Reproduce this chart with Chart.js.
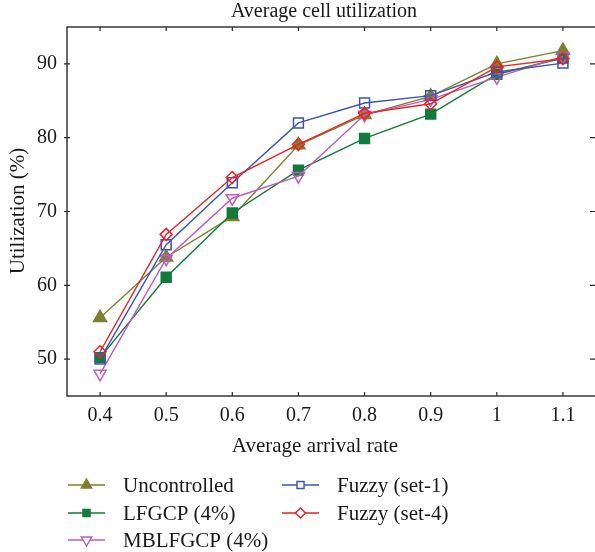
<!DOCTYPE html>
<html>
<head>
<meta charset="utf-8">
<title>Average cell utilization</title>
<script src="https://cdn.jsdelivr.net/npm/chart.js@4.4.1/dist/chart.umd.min.js"></script>
<style>
    html, body { margin: 0; padding: 0; background: #fff; overflow: hidden; }
    #wrap { width: 595px; height: 552px; overflow: hidden; position: relative; }
    #utilChart { position: absolute; left: 0; top: 0; }
</style>
</head>
<body>
<div id="wrap"><canvas id="utilChart" width="600" height="552"></canvas></div>
<script>
// Arrival rates on the x axis
const arrivalRates = [0.4, 0.5, 0.6, 0.7, 0.8, 0.9, 1.0, 1.1];

// Utilization (%) per scheme
const uncontrolled = [55.6, 63.8, 69.3, 79.0, 83.1, 85.6, 90.0, 91.8];
const lfgcp        = [50.2, 61.1, 69.8, 75.6, 79.9, 83.2, 88.6, 90.8];
const mblfgcp      = [48.0, 63.6, 71.8, 74.8, 83.1, 85.2, 88.2, 91.0];
const fuzzySet1    = [50.0, 65.5, 73.9, 82.0, 84.7, 85.7, 88.9, 90.1];
const fuzzySet4    = [51.0, 66.9, 74.6, 79.1, 83.3, 84.6, 89.6, 90.7];

// Axis ticks
const xTicks = [0.4, 0.5, 0.6, 0.7, 0.8, 0.9, 1, 1.1];
const yTicks = [50, 60, 70, 80, 90];

const FONT = '"Liberation Serif", "Times New Roman", serif';

function toPoints(values) {
    return arrivalRates.map((r, i) => ({ x: r, y: values[i] }));
}

const series = [
    { label: 'Uncontrolled', data: uncontrolled, color: '#7f7f30', style: 'triangle', rotation: 0, filled: true, radius: 7.5, order: 5,
      legend: { radius: 6 } },
    { label: 'LFGCP (4%)', data: lfgcp, color: '#127a3d', style: 'rect', rotation: 0, filled: true, radius: 7, order: 4,
      legend: { radius: 5 } },
    { label: 'MBLFGCP (4%)', data: mblfgcp, color: '#c05cc0', style: 'triangle', rotation: 180, filled: false, radius: 7, order: 3,
      legend: { radius: 6 } },
    { label: 'Fuzzy (set-1)', data: fuzzySet1, color: '#3a55b4', style: 'rect', rotation: 0, filled: false, radius: 7, order: 2,
      legend: { radius: 5 } },
    { label: 'Fuzzy (set-4)', data: fuzzySet4, color: '#ee2024', style: 'rectRot', rotation: 0, filled: false, radius: 6, order: 1,
      legend: { radius: 5 } }
];

// Box around the plot with small tick marks on every side
const framePlugin = {
    id: 'frame',
    beforeDatasetsDraw(chart) {
        const { ctx, chartArea: a, scales } = chart;
        ctx.save();
        ctx.strokeStyle = '#2b2b2b';
        ctx.lineWidth = 1.4;
        ctx.strokeRect(a.left, a.top, a.right - a.left, a.bottom - a.top);
        ctx.lineWidth = 1.2;
        ctx.beginPath();
        xTicks.forEach(v => {
            const px = scales.x.getPixelForValue(v);
            ctx.moveTo(px, a.bottom); ctx.lineTo(px, a.bottom - 4);
            ctx.moveTo(px, a.top); ctx.lineTo(px, a.top + 4);
        });
        yTicks.forEach(v => {
            const py = scales.y.getPixelForValue(v);
            ctx.moveTo(a.left - 3, py); ctx.lineTo(a.left + 3, py);
            ctx.moveTo(a.right, py); ctx.lineTo(a.right - 6, py);
        });
        ctx.stroke();
        ctx.restore();
    }
};

// Title, axis titles and the two-column legend
const textPlugin = {
    id: 'texts',
    afterDraw(chart) {
        const { ctx } = chart;
        ctx.save();
        ctx.fillStyle = '#1a1a1a';
        ctx.textAlign = 'center';
        ctx.textBaseline = 'middle';

        ctx.font = '20px ' + FONT;
        ctx.fillText('Average cell utilization', 324, 12);

        ctx.font = '21px ' + FONT;
        ctx.fillText('Average arrival rate', 315, 446);

        ctx.save();
        ctx.translate(18, 211);
        ctx.rotate(-Math.PI / 2);
        ctx.fillText('Utilization (%)', 0, 0);
        ctx.restore();

        // legend: first three entries in the left column, the rest on the right
        const cols = [68, 282];
        const rows = [485, 513, 540];
        series.forEach((s, i) => {
            const col = i < 3 ? 0 : 1;
            const row = i < 3 ? i : i - 3;
            const x0 = cols[col];
            const y = rows[row];
            ctx.strokeStyle = s.color;
            ctx.lineWidth = 1.6;
            ctx.beginPath();
            ctx.moveTo(x0, y);
            ctx.lineTo(x0 + 37, y);
            ctx.stroke();
            ctx.fillStyle = s.filled ? s.color : '#ffffff';
            ctx.lineWidth = 1.4;
            Chart.helpers.drawPoint(ctx, {
                pointStyle: s.style,
                rotation: s.rotation,
                radius: s.legend.radius,
                borderWidth: 1.4
            }, x0 + 18.5, y);
            ctx.fillStyle = '#1a1a1a';
            ctx.textAlign = 'left';
            ctx.font = '21px ' + FONT;
            ctx.fillText(s.label, x0 + 55, y + 1);
        });
        ctx.restore();
    }
};

new Chart(document.getElementById('utilChart'), {
    type: 'line',
    data: {
        datasets: series.map(s => ({
            label: s.label,
            data: toPoints(s.data),
            borderColor: s.color,
            borderWidth: 1.4,
            pointStyle: s.style,
            rotation: s.rotation,
            pointRadius: s.radius,
            pointBorderWidth: 1.5,
            pointBorderColor: s.color,
            pointBackgroundColor: s.filled ? s.color : 'rgba(255,255,255,0)',
            tension: 0,
            order: s.order
        }))
    },
    options: {
        responsive: false,
        animation: false,
        events: [],
        layout: {
            autoPadding: false,
            padding: { top: 27, right: 4, bottom: 126, left: 0 }
        },
        plugins: {
            legend: { display: false },
            title: { display: false },
            tooltip: { enabled: false }
        },
        scales: {
            x: {
                type: 'linear',
                min: 0.35,
                max: 1.15,
                afterBuildTicks: scale => { scale.ticks = xTicks.map(v => ({ value: v })); },
                afterFit: scale => { scale.height = 30; },
                grid: { display: false, drawTicks: false },
                border: { display: false },
                ticks: {
                    color: '#1a1a1a',
                    font: { family: FONT, size: 20 },
                    padding: 8,
                    maxRotation: 0,
                    callback: v => String(Math.round(v * 10) / 10)
                }
            },
            y: {
                min: 45,
                max: 95,
                afterBuildTicks: scale => { scale.ticks = yTicks.map(v => ({ value: v })); },
                afterFit: scale => { scale.width = 67; },
                grid: { display: false, drawTicks: false },
                border: { display: false },
                ticks: {
                    color: '#1a1a1a',
                    font: { family: FONT, size: 20 },
                    padding: 10
                }
            }
        }
    },
    plugins: [framePlugin, textPlugin]
});
</script>
</body>
</html>
